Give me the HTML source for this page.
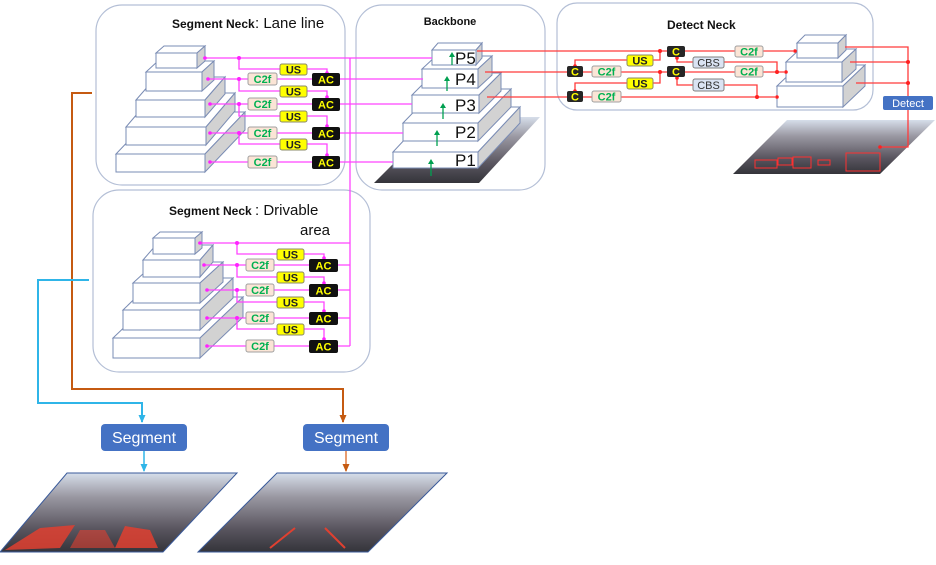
<!DOCTYPE html>
<html><head><meta charset="utf-8"><style>
html,body{margin:0;padding:0;background:#fff;}
svg{display:block;font-family:"Liberation Sans",sans-serif;}
.pk{stroke:#ff44ff;stroke-width:1.3;fill:none}
.rd{stroke:#ff3b3b;stroke-width:1.3;fill:none}
.us{fill:#ffff00;stroke:#8a8a6a;stroke-width:1}
.ac{fill:#111}
.c2f{fill:#fbe5d6;stroke:#a0a0a0;stroke-width:1}
.cbs{fill:#dae3f3;stroke:#808080;stroke-width:1}
.tb{font-weight:bold;font-size:11px;text-anchor:middle}
.pnl{fill:#fff;stroke:#b4bfd6;stroke-width:1.2}
</style></head><body>
<svg id="s" width="936" height="565" viewBox="0 0 936 565" xmlns="http://www.w3.org/2000/svg">
<defs>
<marker id="ap" markerUnits="userSpaceOnUse" markerWidth="6" markerHeight="6" refX="5" refY="3" orient="auto"><path d="M0,0 L6,3 L0,6z" fill="#ff44ff"/></marker>
<marker id="ab" markerUnits="userSpaceOnUse" markerWidth="8" markerHeight="8" refX="7" refY="4" orient="auto"><path d="M0,0.5 L8,4 L0,7.5z" fill="#2fb5e8"/></marker>
<marker id="ao" markerUnits="userSpaceOnUse" markerWidth="8" markerHeight="8" refX="7" refY="4" orient="auto"><path d="M0,0.5 L8,4 L0,7.5z" fill="#c55a11"/></marker>
<linearGradient id="img" x1="0" y1="0" x2="0" y2="1">
<stop offset="0" stop-color="#d6deea"/><stop offset="0.3" stop-color="#9a98a2"/><stop offset="0.7" stop-color="#5a5660"/><stop offset="1" stop-color="#34343a"/></linearGradient>
</defs>

<!-- panels -->
<rect class="pnl" x="96" y="5" width="249" height="180" rx="26"/>
<rect class="pnl" x="356" y="5" width="189" height="185" rx="26"/>
<rect class="pnl" x="557" y="3" width="316" height="107" rx="20"/>
<rect class="pnl" x="93" y="190" width="277" height="182" rx="26"/>

<!-- images -->
<polygon points="374,183 440,117 540,117 479,183" fill="url(#img)"/>
<polygon points="733,174 787,120 935,120 880,174" fill="url(#img)"/>
<polygon points="0,552 67,473 237,473 163,552" fill="url(#img)" stroke="#3a5a9a"/>
<polygon points="198,552 277,473 447,473 368,552" fill="url(#img)" stroke="#3a5a9a"/>
<polygon points="5,550 40,528 75,525 60,548" fill="#e04030" opacity="0.85"/>
<polygon points="115,548 125,526 150,530 158,548" fill="#e04030" opacity="0.85"/>
<polygon points="70,548 80,530 105,530 115,548" fill="#e04030" opacity="0.6"/>
<path d="M270,548 L295,528 M345,548 L325,528" stroke="#e04030" stroke-width="2"/>
<g fill="none" stroke="#ff3030" stroke-width="1"><rect x="755" y="160" width="22" height="8"/><rect x="793" y="157" width="18" height="11"/><rect x="778" y="158" width="14" height="7"/><rect x="818" y="160" width="12" height="5"/><rect x="846" y="153" width="34" height="18"/></g>

<g id="boxes" stroke="#7a8cb4" stroke-width="1"></g>

<!-- pink lane -->
<g class="pk">
<path d="M350,58 V346"/>
<path d="M432,58 H203"/>
<path d="M239,58 V69 H280 M307,69 H327 V73" />
<path d="M423,79 H340 M312,79 H277 M248,79 H208"/>
<path d="M239,79 V91 H280 M307,91 H327 V97"/>
<path d="M412,104 H340 M312,104 H277 M248,104 H210"/>
<path d="M239,104 V116 H280 M307,116 H327 V126"/>
<path d="M403,133 H340 M312,133 H277 M248,133 H210"/>
<path d="M239,133 V144 H280 M307,144 H327 V155"/>
<path d="M393,162 H340 M312,162 H277 M248,162 H210"/>
<path d="M350,243 H198"/>
<path d="M237,243 V254 H277 M304,254 H324 V258"/>
<path d="M350,265 H338 M309,265 H274 M246,265 H204"/>
<path d="M237,265 V277 H277 M304,277 H324 V283"/>
<path d="M350,290 H338 M309,290 H274 M246,290 H207"/>
<path d="M237,290 V302 H277 M304,302 H324 V311"/>
<path d="M350,318 H338 M309,318 H274 M246,318 H207"/>
<path d="M237,318 V329 H277 M304,329 H324 V339"/>
<path d="M350,346 H338 M309,346 H274 M246,346 H207"/>
</g>
<g fill="#ff22ff">
<circle cx="239" cy="58" r="2"/><circle cx="239" cy="79" r="2"/><circle cx="239" cy="104" r="2"/><circle cx="239" cy="133" r="2"/>
<circle cx="205" cy="58" r="1.8"/><circle cx="208" cy="79" r="1.8"/><circle cx="210" cy="104" r="1.8"/><circle cx="210" cy="133" r="1.8"/><circle cx="210" cy="162" r="1.8"/>
<circle cx="327" cy="73" r="1.8"/><circle cx="327" cy="97" r="1.8"/><circle cx="327" cy="126" r="1.8"/><circle cx="327" cy="155" r="1.8"/>
<circle cx="237" cy="243" r="2"/><circle cx="237" cy="265" r="2"/><circle cx="237" cy="290" r="2"/><circle cx="237" cy="318" r="2"/>
<circle cx="200" cy="243" r="1.8"/><circle cx="204" cy="265" r="1.8"/><circle cx="207" cy="290" r="1.8"/><circle cx="207" cy="318" r="1.8"/><circle cx="207" cy="346" r="1.8"/>
<circle cx="324" cy="258" r="1.8"/><circle cx="324" cy="283" r="1.8"/><circle cx="324" cy="311" r="1.8"/><circle cx="324" cy="339" r="1.8"/>
</g>

<!-- red detect -->
<g class="rd">
<path d="M477,51 H667"/>
<path d="M653,60 H660 V51 M627,60 H575 V66"/>
<path d="M485,72 H567 M583,72 H592 M621,72 H667"/>
<path d="M653,83 H660 V72 M627,83 H575 V91"/>
<path d="M487,97 H567 M583,97 H592 M621,97 H775"/>
<path d="M724,85 H757 V97 M693,85 H677 V78"/>
<path d="M724,62 H777 V72 M693,62 H677 V58"/>
<path d="M685,51 H735 M763,51 H793"/>
<path d="M685,72 H735 M763,72 H784"/>
<path d="M845,47 H908 V96 M850,62 H908 M856,83 H908"/>
<path d="M908,110 V147 H880"/>
</g>
<g fill="#ff2020">
<circle cx="660" cy="51" r="2"/><circle cx="660" cy="72" r="2"/><circle cx="757" cy="97" r="2"/><circle cx="777" cy="72" r="2"/>
<circle cx="908" cy="62" r="2"/><circle cx="908" cy="83" r="2"/><circle cx="575" cy="66" r="1.8"/><circle cx="575" cy="91" r="1.8"/>
<circle cx="677" cy="58" r="1.8"/><circle cx="677" cy="78" r="1.8"/><circle cx="795" cy="51" r="1.8"/><circle cx="786" cy="72" r="1.8"/><circle cx="777" cy="97" r="1.8"/><circle cx="880" cy="147" r="1.8"/>
</g>

<!-- lane modules -->
<g>
<rect class="us" x="280" y="64" width="27" height="11" rx="2"/><text class="tb" x="293.5" y="73.5" fill="#222">US</text>
<rect class="us" x="280" y="86" width="27" height="11" rx="2"/><text class="tb" x="293.5" y="95.5" fill="#222">US</text>
<rect class="us" x="280" y="111" width="27" height="11" rx="2"/><text class="tb" x="293.5" y="120.5" fill="#222">US</text>
<rect class="us" x="280" y="139" width="27" height="11" rx="2"/><text class="tb" x="293.5" y="148.5" fill="#222">US</text>
<rect class="ac" x="312" y="73" width="28" height="13" rx="2"/><text class="tb" x="326" y="83.5" fill="#ffff00">AC</text>
<rect class="ac" x="312" y="98" width="28" height="13" rx="2"/><text class="tb" x="326" y="108.5" fill="#ffff00">AC</text>
<rect class="ac" x="312" y="127" width="28" height="13" rx="2"/><text class="tb" x="326" y="137.5" fill="#ffff00">AC</text>
<rect class="ac" x="312" y="156" width="28" height="13" rx="2"/><text class="tb" x="326" y="166.5" fill="#ffff00">AC</text>
<rect class="c2f" x="248" y="73" width="29" height="12" rx="2"/><text class="tb" x="262.5" y="83" fill="#00b050">C2f</text>
<rect class="c2f" x="248" y="98" width="29" height="12" rx="2"/><text class="tb" x="262.5" y="108" fill="#00b050">C2f</text>
<rect class="c2f" x="248" y="127" width="29" height="12" rx="2"/><text class="tb" x="262.5" y="137" fill="#00b050">C2f</text>
<rect class="c2f" x="248" y="156" width="29" height="12" rx="2"/><text class="tb" x="262.5" y="166" fill="#00b050">C2f</text>
</g>
<!-- drivable modules -->
<g>
<rect class="us" x="277" y="249" width="27" height="11" rx="2"/><text class="tb" x="290.5" y="258.5" fill="#222">US</text>
<rect class="us" x="277" y="272" width="27" height="11" rx="2"/><text class="tb" x="290.5" y="281.5" fill="#222">US</text>
<rect class="us" x="277" y="297" width="27" height="11" rx="2"/><text class="tb" x="290.5" y="306.5" fill="#222">US</text>
<rect class="us" x="277" y="324" width="27" height="11" rx="2"/><text class="tb" x="290.5" y="333.5" fill="#222">US</text>
<rect class="ac" x="309" y="259" width="29" height="13" rx="2"/><text class="tb" x="323.5" y="269.5" fill="#ffff00">AC</text>
<rect class="ac" x="309" y="284" width="29" height="13" rx="2"/><text class="tb" x="323.5" y="294.5" fill="#ffff00">AC</text>
<rect class="ac" x="309" y="312" width="29" height="13" rx="2"/><text class="tb" x="323.5" y="322.5" fill="#ffff00">AC</text>
<rect class="ac" x="309" y="340" width="29" height="13" rx="2"/><text class="tb" x="323.5" y="350.5" fill="#ffff00">AC</text>
<rect class="c2f" x="246" y="259" width="28" height="12" rx="2"/><text class="tb" x="260" y="269" fill="#00b050">C2f</text>
<rect class="c2f" x="246" y="284" width="28" height="12" rx="2"/><text class="tb" x="260" y="294" fill="#00b050">C2f</text>
<rect class="c2f" x="246" y="312" width="28" height="12" rx="2"/><text class="tb" x="260" y="322" fill="#00b050">C2f</text>
<rect class="c2f" x="246" y="340" width="28" height="12" rx="2"/><text class="tb" x="260" y="350" fill="#00b050">C2f</text>
</g>
<!-- detect modules -->
<g>
<rect class="us" x="627" y="55" width="26" height="11" rx="2"/><text class="tb" x="640" y="64.5" fill="#222">US</text>
<rect class="us" x="627" y="78" width="26" height="11" rx="2"/><text class="tb" x="640" y="87.5" fill="#222">US</text>
<rect fill="#262626" x="667" y="46" width="18" height="11" rx="2"/><text class="tb" x="676" y="55.5" fill="#ffff00">C</text>
<rect fill="#262626" x="667" y="66" width="18" height="11" rx="2"/><text class="tb" x="676" y="75.5" fill="#ffff00">C</text>
<rect fill="#262626" x="567" y="66" width="16" height="11" rx="2"/><text class="tb" x="575" y="75.5" fill="#ffff00">C</text>
<rect fill="#262626" x="567" y="91" width="16" height="11" rx="2"/><text class="tb" x="575" y="100.5" fill="#ffff00">C</text>
<rect class="c2f" x="592" y="66" width="29" height="11" rx="2"/><text class="tb" x="606.5" y="75.5" fill="#00b050">C2f</text>
<rect class="c2f" x="592" y="91" width="29" height="11" rx="2"/><text class="tb" x="606.5" y="100.5" fill="#00b050">C2f</text>
<rect class="c2f" x="735" y="46" width="28" height="11" rx="2"/><text class="tb" x="749" y="55.5" fill="#00b050">C2f</text>
<rect class="c2f" x="735" y="66" width="28" height="11" rx="2"/><text class="tb" x="749" y="75.5" fill="#00b050">C2f</text>
<rect class="cbs" x="693" y="57" width="31" height="11" rx="2"/><text class="tb" x="708.5" y="66.5" fill="#333" style="font-weight:normal">CBS</text>
<rect class="cbs" x="693" y="79" width="31" height="12" rx="2"/><text class="tb" x="708.5" y="89" fill="#333" style="font-weight:normal">CBS</text>
<rect fill="#4472c4" x="883" y="96" width="50" height="14" rx="2"/><text x="908" y="107" font-size="11" fill="#fff" text-anchor="middle">Detect</text>
</g>

<!-- green arrows in backbone -->
<g stroke="#00a050" stroke-width="1.3">
<path d="M431,176 V163"/><path d="M437,146 V134"/><path d="M443,119 V107"/><path d="M447,91 V80"/><path d="M452,65 V56"/>
</g>
<g fill="#00a050"><path d="M428,164 L431,159 L434,164z"/><path d="M434,135 L437,130 L440,135z"/><path d="M440,108 L443,103 L446,108z"/><path d="M444,81 L447,76 L450,81z"/><path d="M449,57 L452,52 L455,57z"/></g>
<g font-size="17" fill="#111">
<text x="455" y="166">P1</text><text x="455" y="138">P2</text><text x="455" y="111">P3</text><text x="455" y="85">P4</text><text x="455" y="64">P5</text>
</g>

<!-- titles -->
<text x="172" y="28" font-size="12" font-weight="bold" fill="#111">Segment Neck</text>
<text x="255" y="28" font-size="15" fill="#111">: Lane line</text>
<text x="450" y="25" font-size="11" font-weight="bold" fill="#111" text-anchor="middle">Backbone</text>
<text x="667" y="29" font-size="12" font-weight="bold" fill="#111">Detect Neck</text>
<text x="169" y="215" font-size="12" font-weight="bold" fill="#111">Segment Neck</text>
<text x="255" y="215" font-size="15" fill="#111">: Drivable</text>
<text x="300" y="235" font-size="15" fill="#111">area</text>

<!-- left connectors -->
<path d="M92,93 H72 V389 H343 V422" stroke="#c55a11" stroke-width="2" fill="none" marker-end="url(#ao)"/>
<path d="M89,280 H38 V403 H142 V422" stroke="#2fb5e8" stroke-width="2" fill="none" marker-end="url(#ab)"/>
<path d="M346,451 V471" stroke="#e07a40" stroke-width="1.5" marker-end="url(#ao)"/>
<path d="M144,451 V471" stroke="#2fb5e8" stroke-width="1.5" marker-end="url(#ab)"/>
<rect x="101" y="424" width="86" height="27" rx="4" fill="#4472c4"/>
<text x="144" y="443" font-size="16" fill="#fff" text-anchor="middle">Segment</text>
<rect x="303" y="424" width="86" height="27" rx="4" fill="#4472c4"/>
<text x="346" y="443" font-size="16" fill="#fff" text-anchor="middle">Segment</text>
</svg>
<script>
(function(){
var g=document.getElementById('boxes');var NS='http://www.w3.org/2000/svg';
function poly(p,f){var e=document.createElementNS(NS,'polygon');e.setAttribute('points',p.map(function(a){return a.join(',')}).join(' '));e.setAttribute('fill',f);g.appendChild(e);}
function box(x,y,w,h,dx,dy){
poly([[x,y],[x+dx,y+dy],[x+w+dx,y+dy],[x+w,y]],'#fff');
poly([[x+w,y],[x+w+dx,y+dy],[x+w+dx,y+h+dy],[x+w,y+h]],'#d2d2d2');
poly([[x,y],[x+w,y],[x+w,y+h],[x,y+h]],'#fff');}
[[116,154,89,18,40,-42],[126,127,80,18,29,-34],[136,100,69,17,20,-23],[146,72,56,19,12,-11],[156,53,41,15,8,-7],
[113,338,87,20,43,-41],[123,310,77,20,33,-32],[133,283,67,20,23,-21],[143,260,57,17,13,-15],[153,238,42,16,7,-6],
[393,152,85,16,42,-45],[403,123,75,18,33,-34],[412,95,67,18,22,-22],[422,69,56,19,14,-13],[432,50,44,15,6,-7],
[777,86,66,21,22,-21],[786,62,56,20,14,-13],[797,43,41,15,8,-8]].forEach(function(b){box.apply(null,b)});
})();
</script>
</body></html>
